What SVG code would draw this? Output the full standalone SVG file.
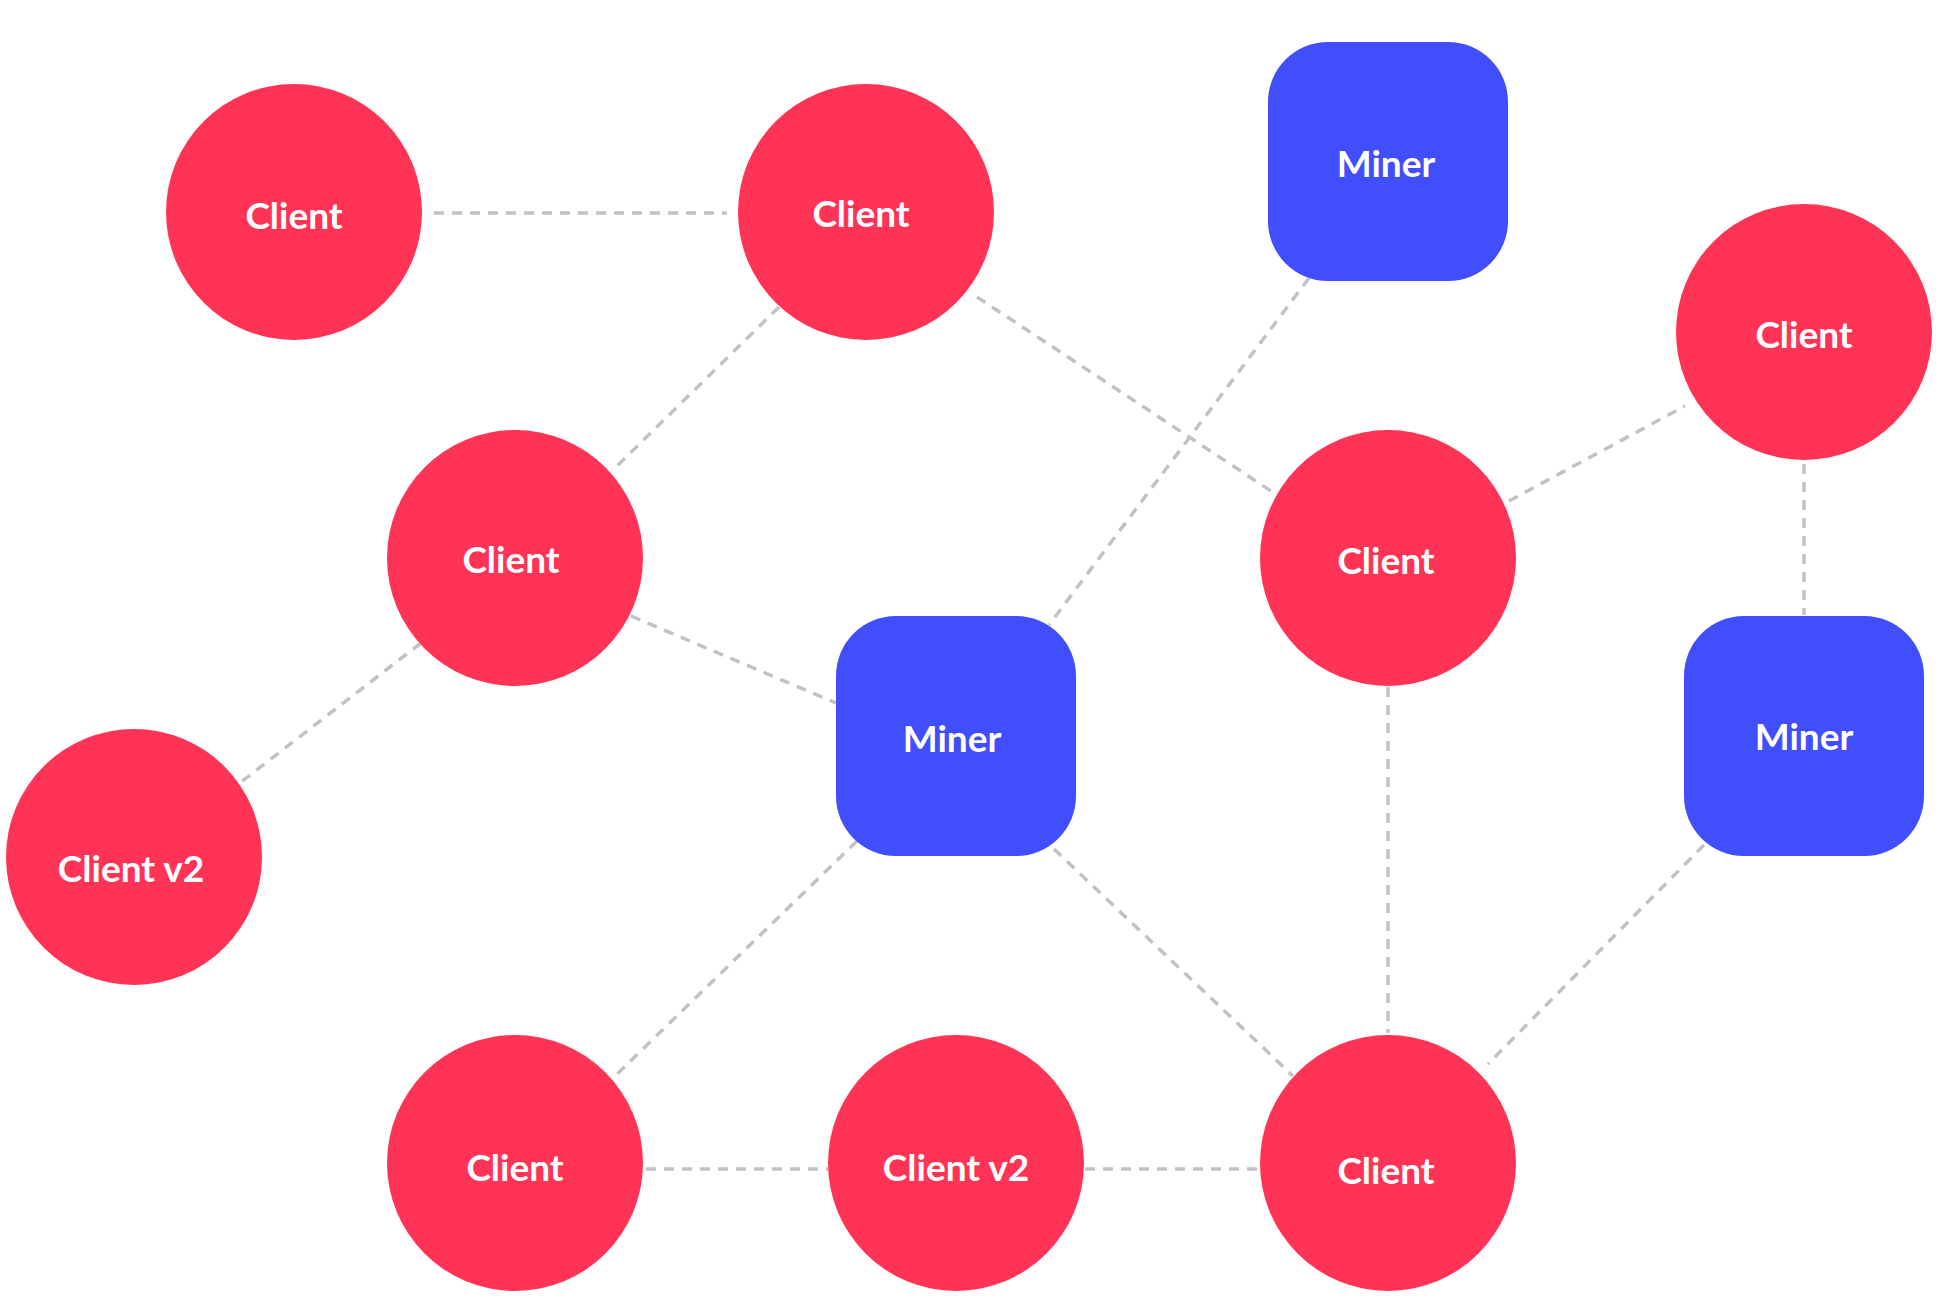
<svg xmlns="http://www.w3.org/2000/svg" width="1940" height="1314" viewBox="0 0 1940 1314">
<style>
.c{fill:#FF3355}.m{fill:#404EFC}
text{font-family:Lato,"Open Sans",sans-serif;font-weight:700;font-size:37px;fill:#fff;text-anchor:middle;dominant-baseline:central}
#edges line{stroke:#C2C2C4;stroke-width:3.5;stroke-dasharray:10 8}
</style>
<rect width="1940" height="1314" fill="#fff"/>
<g id="edges">
<line x1="434" y1="213" x2="727" y2="213"/>
<line x1="779" y1="307" x2="615" y2="468"/>
<line x1="977" y1="297" x2="1277" y2="495"/>
<line x1="1309" y1="278" x2="1049" y2="625"/>
<line x1="1509" y1="501" x2="1685" y2="406"/>
<line x1="1804" y1="464" x2="1804" y2="615"/>
<line x1="631" y1="616" x2="836" y2="703"/>
<line x1="421" y1="643" x2="241" y2="782"/>
<line x1="857" y1="841" x2="612" y2="1079"/>
<line x1="1054" y1="849" x2="1293" y2="1076"/>
<line x1="1388" y1="687" x2="1388" y2="1033"/>
<line x1="1704" y1="845" x2="1488" y2="1064"/>
<line x1="646" y1="1169" x2="828" y2="1169"/>
<line x1="1085" y1="1169" x2="1260" y2="1169"/>
</g>
<g id="c1"><circle class="c" cx="294" cy="212" r="128"/><text x="294" y="214">Client</text></g>
<g id="c2"><circle class="c" cx="866" cy="212" r="128"/><text x="861" y="212">Client</text></g>
<g id="c3"><circle class="c" cx="515" cy="558" r="128"/><text x="511" y="558">Client</text></g>
<g id="c4"><circle class="c" cx="1388" cy="558" r="128"/><text x="1386" y="559">Client</text></g>
<g id="c5"><circle class="c" cx="1804" cy="332" r="128"/><text x="1804" y="333">Client</text></g>
<g id="cv2a"><circle class="c" cx="134" cy="857" r="128"/><text x="131" y="867">Client v2</text></g>
<g id="c6"><circle class="c" cx="515" cy="1163" r="128"/><text x="515" y="1166">Client</text></g>
<g id="cv2b"><circle class="c" cx="956" cy="1163" r="128"/><text x="956" y="1166">Client v2</text></g>
<g id="c7"><circle class="c" cx="1388" cy="1163" r="128"/><text x="1386" y="1169">Client</text></g>
<g id="m1"><rect class="m" x="1268" y="42" width="240" height="239" rx="60"/><text x="1386" y="162">Miner</text></g>
<g id="m2"><rect class="m" x="836" y="616" width="240" height="240" rx="60"/><text x="952" y="737">Miner</text></g>
<g id="m3"><rect class="m" x="1684" y="616" width="240" height="240" rx="60"/><text x="1804" y="735">Miner</text></g>
</svg>
